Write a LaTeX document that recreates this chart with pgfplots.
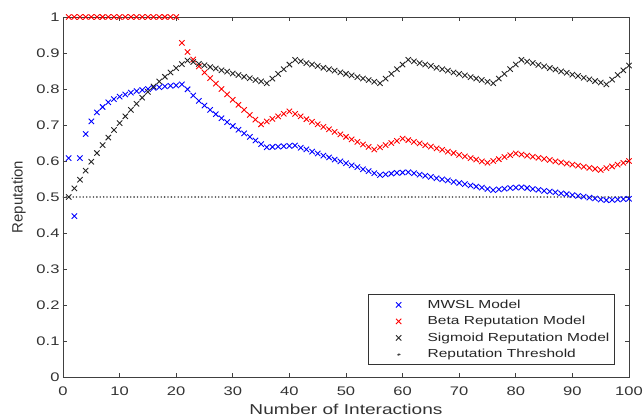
\documentclass[border=0pt]{standalone}
\usepackage{fontspec}
\setmainfont{Liberation Sans}[FakeStretch=1.33]
\newfontfamily\ylabfont{Liberation Sans}
\usepackage{pgfplots}
\pgfplotsset{compat=1.18}
\usepackage{pgfplotstable}

\pgfplotstableread{
x y
1 0.608
2 0.447
3 0.608
4 0.675
5 0.710
6 0.735
7 0.750
8 0.763
9 0.772
10 0.779
11 0.785
12 0.790
13 0.794
14 0.797
15 0.800
16 0.803
17 0.805
18 0.807
19 0.809
20 0.810
21 0.813
22 0.799
23 0.782
24 0.767
25 0.754
26 0.742
27 0.730
28 0.719
29 0.708
30 0.697
31 0.687
32 0.677
33 0.667
34 0.657
35 0.647
36 0.638
37 0.639
38 0.640
39 0.641
40 0.642
41 0.643
42 0.637
43 0.632
44 0.626
45 0.621
46 0.615
47 0.610
48 0.604
49 0.599
50 0.594
51 0.588
52 0.583
53 0.577
54 0.572
55 0.566
56 0.561
57 0.563
58 0.565
59 0.567
60 0.568
61 0.569
62 0.566
63 0.562
64 0.559
65 0.556
66 0.552
67 0.549
68 0.546
69 0.542
70 0.539
71 0.536
72 0.532
73 0.529
74 0.526
75 0.522
76 0.519
77 0.521
78 0.523
79 0.525
80 0.526
81 0.527
82 0.525
83 0.522
84 0.520
85 0.517
86 0.515
87 0.513
88 0.510
89 0.508
90 0.505
91 0.503
92 0.501
93 0.498
94 0.496
95 0.493
96 0.491
97 0.492
98 0.493
99 0.494
100 0.495
}\mwsl

\pgfplotstableread{
x y
1 1
2 1
3 1
4 1
5 1
6 1
7 1
8 1
9 1
10 1
11 1
12 1
13 1
14 1
15 1
16 1
17 1
18 1
19 1
20 1
21 0.928
22 0.903
23 0.882
24 0.863
25 0.846
26 0.830
27 0.815
28 0.800
29 0.785
30 0.770
31 0.756
32 0.742
33 0.728
34 0.715
35 0.702
36 0.710
37 0.717
38 0.724
39 0.731
40 0.738
41 0.731
42 0.724
43 0.716
44 0.709
45 0.702
46 0.695
47 0.688
48 0.681
49 0.674
50 0.667
51 0.660
52 0.653
53 0.646
54 0.639
55 0.632
56 0.638
57 0.644
58 0.650
59 0.656
60 0.662
61 0.658
62 0.653
63 0.649
64 0.644
65 0.640
66 0.635
67 0.631
68 0.626
69 0.622
70 0.617
71 0.613
72 0.608
73 0.604
74 0.599
75 0.595
76 0.600
77 0.605
78 0.611
79 0.616
80 0.621
81 0.618
82 0.615
83 0.612
84 0.609
85 0.606
86 0.603
87 0.599
88 0.596
89 0.593
90 0.590
91 0.587
92 0.584
93 0.581
94 0.578
95 0.575
96 0.580
97 0.585
98 0.590
99 0.595
100 0.600
}\beta

\pgfplotstableread{
x y
1 0.500
2 0.524
3 0.548
4 0.573
5 0.598
6 0.622
7 0.644
8 0.665
9 0.686
10 0.705
11 0.724
12 0.742
13 0.759
14 0.776
15 0.792
16 0.807
17 0.821
18 0.834
19 0.846
20 0.858
21 0.869
22 0.879
23 0.875
24 0.870
25 0.866
26 0.861
27 0.857
28 0.852
29 0.848
30 0.843
31 0.839
32 0.834
33 0.830
34 0.825
35 0.821
36 0.816
37 0.829
38 0.842
39 0.855
40 0.868
41 0.881
42 0.877
43 0.872
44 0.868
45 0.864
46 0.859
47 0.855
48 0.851
49 0.846
50 0.842
51 0.838
52 0.833
53 0.829
54 0.825
55 0.820
56 0.816
57 0.829
58 0.842
59 0.855
60 0.868
61 0.881
62 0.877
63 0.872
64 0.868
65 0.864
66 0.859
67 0.855
68 0.851
69 0.846
70 0.842
71 0.838
72 0.833
73 0.829
74 0.825
75 0.820
76 0.816
77 0.829
78 0.842
79 0.855
80 0.868
81 0.881
82 0.876
83 0.872
84 0.867
85 0.863
86 0.858
87 0.854
88 0.849
89 0.845
90 0.840
91 0.836
92 0.831
93 0.827
94 0.822
95 0.818
96 0.813
97 0.826
98 0.839
99 0.852
100 0.865
}\sigm

\begin{document}
\begin{tikzpicture}
\begin{axis}[
  width=566bp, height=360bp,
  scale only axis,
  xmin=0, xmax=100, ymin=0, ymax=1,
  xtick={0,10,...,100},
  ytick={0,0.1,...,1},
  yticklabel style={/pgf/number format/fixed,/pgf/number format/precision=1},
  /pgf/number format/assume math mode=true,
  tick align=inside,
  major tick length=4bp,
  axis line style={black!75, line width=0.8pt},
  every tick/.style={black!75, line width=0.8pt},
  tick label style={font=\fontsize{12.5}{14}\selectfont, text=black!80},
  xticklabel style={yshift=-6bp},
  xlabel={Number of Interactions},
  xlabel style={font=\fontsize{14.4}{16}\selectfont, text=black!80, yshift=-2bp},
  ylabel={\ylabfont Reputation},
  ylabel style={font=\fontsize{15}{17}\selectfont, text=black!80, yshift=4bp},
  legend style={at={(0.975,0.033)}, anchor=south east,
    draw=black!80, line width=0.8pt,
    font=\fontsize{11.7}{14}\selectfont, text=black!85,
    nodes={text height=9bp, text depth=2.5bp, inner ysep=2.5bp},
    row sep=0pt,
    inner xsep=3bp, inner ysep=2bp},
  legend cell align=left,
  legend image code/.code={\path[draw=none,fill=none] (0bp,0bp) -- (54bp,0bp);
    \draw[only marks, mark size=3.8pt] plot coordinates {(27bp,0bp)};},
]
\addplot[only marks, mark=x, mark size=3.8pt, blue, line width=0.9pt] table[x=x,y=y] {\mwsl};
\addlegendentry{MWSL Model}
\addplot[only marks, mark=x, mark size=3.8pt, red, line width=0.9pt] table[x=x,y=y] {\beta};
\addlegendentry{Beta Reputation Model}
\addplot[only marks, mark=x, mark size=3.8pt, black!85, line width=0.9pt] table[x=x,y=y] {\sigm};
\addlegendentry{Sigmoid Reputation Model}
\addplot[black!70, line width=1.8pt, line cap=round, dash pattern=on 0pt off 3.4pt,
  legend image code/.code={\path[draw=none,fill=none] (0bp,0bp) -- (54bp,0bp);
    \fill[black!75] (27bp,0bp) circle (1pt);}]
  coordinates {(0,0.5) (100,0.5)};
\addlegendentry{Reputation Threshold}
\end{axis}
\pgfresetboundingbox
\path ([xshift=-63bp,yshift=-42bp]current axis.south west) rectangle ([xshift=15bp,yshift=17bp]current axis.north east);
\end{tikzpicture}
\end{document}
